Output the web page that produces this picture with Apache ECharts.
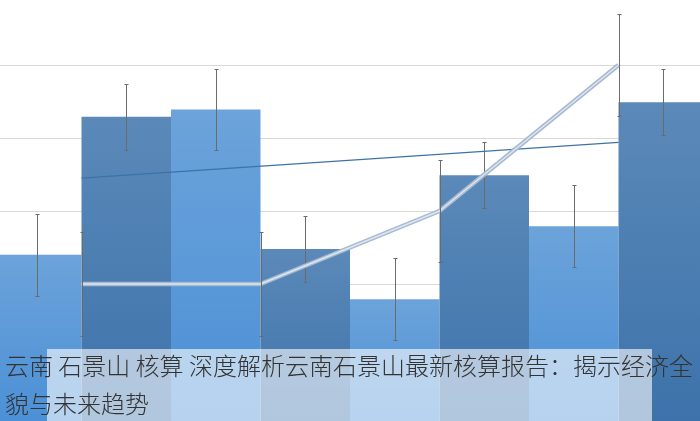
<!DOCTYPE html>
<html>
<head>
<meta charset="utf-8">
<script src="https://cdn.jsdelivr.net/npm/echarts@6/dist/echarts.min.js"></script>
<style>
html,body{margin:0;padding:0;background:#fff;overflow:hidden;width:700px;height:421px;position:relative;}
#chart{width:716px;height:438px;position:absolute;left:-8px;top:-8px;}
</style>
</head>
<body>
<div id="chart"></div>
<script>
// ---- data ----
var categories = ['1', '2', '3', '4', '5', '6', '7', '8'];
var barValues = [2.40, 4.29, 4.39, 2.48, 1.79, 3.49, 2.79, 4.49];
var barErrors = [0.56, 0.45, 0.56, 0.45, 0.56, 0.45, 0.56, 0.45];
var linePositions = [1, 3, 5, 7];
var lineValues = [2.0, 2.0, 3.0, 5.0];
var lineErrors = [0.71, 0.71, 0.70, 0.70];
var trendPositions = [1, 7];
var trendValues = [3.45, 3.94];
var yTicks = [0, 1, 2, 3, 4, 5, 6];
var titleLines = ['云南 石景山 核算 深度解析云南石景山最新核算报告：揭示经济全', '貌与未来趋势'];

var OFF = 8; // chart div is offset by -8px to let the plot bleed past the page edges
var chart = echarts.init(document.getElementById('chart'), null, {renderer: 'canvas'});

function grad(top, bottom) {
  return new echarts.graphic.LinearGradient(0, 0, 0, 1, [
    {offset: 0, color: top}, {offset: 1, color: bottom}
  ]);
}

var barData = barValues.map(function (v, i) {
  return {
    value: v,
    itemStyle: {
      color: i % 2 === 0 ? grad('#6ca3da', '#4a8fd6') : grad('#5b89b9', '#3c72aa')
    }
  };
});

var barErrData = barValues.map(function (v, i) {
  return [i + 0.5, v - barErrors[i], v + barErrors[i]];
});
var lineErrData = lineValues.map(function (v, i) {
  return [linePositions[i], v - lineErrors[i], v + lineErrors[i]];
});

function renderErr(params, api) {
  var x = api.value(0);
  var lo = api.coord([x, api.value(1)]);
  var hi = api.coord([x, api.value(2)]);
  var cx = Math.round(lo[0]) + 0.5;
  var y1 = Math.round(hi[1]) + 0.5, y2 = Math.round(lo[1]) + 0.5;
  var st = {stroke: '#6b6b6b', lineWidth: 1};
  return {
    type: 'group',
    children: [
      {type: 'line', shape: {x1: cx, y1: y1, x2: cx, y2: y2}, style: st},
      {type: 'line', shape: {x1: cx - 2, y1: y1, x2: cx + 2, y2: y1}, style: st},
      {type: 'line', shape: {x1: cx - 2, y1: y2, x2: cx + 2, y2: y2}, style: st}
    ]
  };
}

var option = {
  animation: false,
  backgroundColor: '#ffffff',
  grid: {left: 0, right: 0, top: 0, bottom: 0, containLabel: false},
  xAxis: [
    {type: 'category', data: categories, boundaryGap: true, show: false},
    {type: 'value', min: 0, max: 8, show: false}
  ],
  yAxis: {
    type: 'value', min: yTicks[0], max: yTicks[yTicks.length - 1], interval: 1,
    axisLine: {show: false}, axisTick: {show: false}, axisLabel: {show: false},
    splitLine: {show: true, lineStyle: {color: '#d9d9d9', width: 1}}
  },
  series: [
    {
      type: 'bar', xAxisIndex: 0, data: barData,
      barWidth: '100%', barCategoryGap: '0%', z: 2
    },
    {
      type: 'custom', xAxisIndex: 1, data: barErrData, renderItem: renderErr, z: 5,
      encode: {x: 0, y: [1, 2]}
    },
    {
      type: 'line', xAxisIndex: 1, data: trendPositions.map(function (p, i) { return [p, trendValues[i]]; }),
      symbol: 'none', lineStyle: {color: '#3d72a6', width: 1.2}, z: 4
    },
    {
      type: 'line', xAxisIndex: 1, data: linePositions.map(function (p, i) { return [p, lineValues[i]]; }),
      symbol: 'none', lineStyle: {color: '#a7b9cf', width: 4.5}, z: 6
    },
    {
      type: 'line', xAxisIndex: 1, data: linePositions.map(function (p, i) { return [p, lineValues[i]]; }),
      symbol: 'none', lineStyle: {color: '#dce6f2', width: 1.6}, z: 7
    },
    {
      type: 'custom', xAxisIndex: 1, data: lineErrData, renderItem: renderErr, z: 8,
      encode: {x: 0, y: [1, 2]}
    }
  ],
  graphic: [
    {type: 'rect', left: 47 + OFF, top: 349 + OFF, shape: {width: 605, height: 80},
     style: {fill: 'rgba(255,255,255,0.6)'}, z: 100},
    {type: 'text', left: 5 + OFF, top: 354 + OFF, z: 101,
     style: {text: titleLines[0], fill: '#333333', font: '300 24px "Noto Sans CJK SC", sans-serif'}},
    {type: 'text', left: 5 + OFF, top: 392 + OFF, z: 101,
     style: {text: titleLines[1], fill: '#333333', font: '300 24px "Noto Sans CJK SC", sans-serif'}}
  ]
};
chart.setOption(option);
</script>
</body>
</html>
